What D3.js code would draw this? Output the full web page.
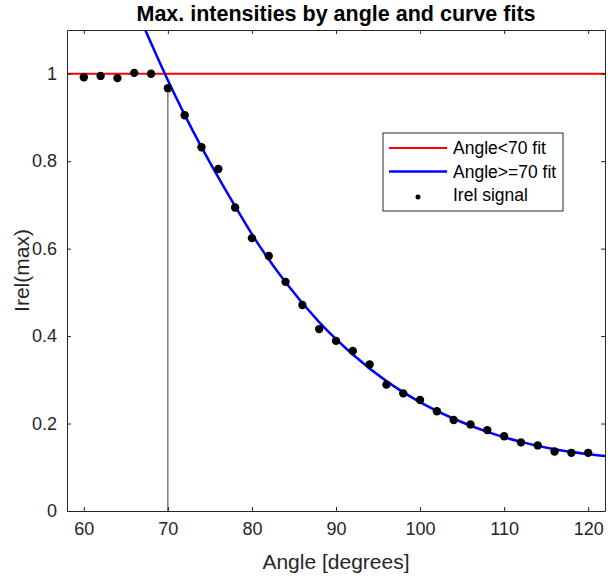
<!DOCTYPE html>
<html>
<head>
<meta charset="utf-8">
<script src="https://cdn.jsdelivr.net/npm/d3@7"></script>
<style>
  body { margin: 0; background: #fff; }
  text { font-family: "Liberation Sans", Arial, Helvetica, sans-serif; }
</style>
</head>
<body>
<svg id="chart" width="608" height="577"></svg>
<script>
// Measured peak intensity per incidence angle
const angles = [60, 62, 64, 66, 68, 70, 72, 74, 76, 78, 80, 82, 84, 86, 88, 90,
                92, 94, 96, 98, 100, 102, 104, 106, 108, 110, 112, 114, 116, 118, 120];
const irel = [0.992, 0.995, 0.990, 1.002, 1.000, 0.967, 0.905, 0.832, 0.782, 0.694, 0.624,
              0.583, 0.524, 0.471, 0.416, 0.389, 0.366, 0.335, 0.289, 0.269, 0.254,
              0.228, 0.208, 0.198, 0.185, 0.171, 0.157, 0.150, 0.136, 0.133, 0.133];

// Fitted curve for angles at or above the cutoff
const fitAngles = [67.3, 68, 69, 70, 72, 74, 76, 78, 80, 84, 88, 92, 96, 100,
                   104, 108, 112, 116, 120, 122];
const fitValues = [1.1, 1.07, 1.027, 0.985, 0.906, 0.832, 0.763, 0.697, 0.633, 0.523,
                   0.432, 0.358, 0.297, 0.249, 0.211, 0.181, 0.158, 0.141, 0.130, 0.126];

// Constant fit below the cutoff
const flatLevel = 1.0;
const cutoffAngle = 70;

const xTicks = [60, 70, 80, 90, 100, 110, 120];
const yTicks = [0, 0.2, 0.4, 0.6, 0.8, 1];
const legendLabels = ["Angle<70 fit", "Angle>=70 fit", "Irel signal"];

const W = 608, H = 577;
const m = { left: 67, right: 3, top: 30, bottom: 66 };
const x = d3.scaleLinear().domain([58, 122]).range([m.left, W - m.right]);
const y = d3.scaleLinear().domain([0, 1.1]).range([H - m.bottom, m.top]);

const svg = d3.select("#chart");
const axisColor = "#262626";
const tickLen = 4;

svg.append("defs").append("clipPath").attr("id", "plot-clip")
  .append("rect")
  .attr("x", x.range()[0]).attr("y", y.range()[1])
  .attr("width", x.range()[1] - x.range()[0])
  .attr("height", y.range()[0] - y.range()[1]);

const plot = svg.append("g").attr("clip-path", "url(#plot-clip)");

// Stem marking the cutoff angle
const cutoffIdx = angles.indexOf(cutoffAngle);
plot.append("line")
  .attr("x1", x(cutoffAngle)).attr("x2", x(cutoffAngle))
  .attr("y1", y(0)).attr("y2", y(irel[cutoffIdx]))
  .attr("stroke", "#3a3a3a").attr("stroke-width", 1);

// Flat fit
plot.append("line")
  .attr("x1", x.range()[0]).attr("x2", x.range()[1])
  .attr("y1", y(flatLevel)).attr("y2", y(flatLevel))
  .attr("stroke", "#ff0000").attr("stroke-width", 2);

// Decaying fit
plot.append("path")
  .datum(fitAngles.map((a, i) => [a, fitValues[i]]))
  .attr("fill", "none")
  .attr("stroke", "#0000ff")
  .attr("stroke-width", 2.5)
  .attr("d", d3.line().x(d => x(d[0])).y(d => y(d[1])).curve(d3.curveMonotoneX));

// Signal points
plot.selectAll("circle.pt")
  .data(angles.map((a, i) => [a, irel[i]]))
  .join("circle")
  .attr("class", "pt")
  .attr("cx", d => x(d[0])).attr("cy", d => y(d[1]))
  .attr("r", 4.2).attr("fill", "#000");

// Axes: box with inward ticks on all four sides
const xB = d3.axisBottom(x).tickValues(xTicks).tickSizeInner(-tickLen).tickSizeOuter(0).tickPadding(11);
const xT = d3.axisTop(x).tickValues(xTicks).tickSizeInner(-tickLen).tickSizeOuter(0).tickFormat("");
const yL = d3.axisLeft(y).tickValues(yTicks).tickSizeInner(-tickLen).tickSizeOuter(0).tickPadding(10)
  .tickFormat(d => String(d));
const yR = d3.axisRight(y).tickValues(yTicks).tickSizeInner(-tickLen).tickSizeOuter(0).tickFormat("");

function styleAxis(g) {
  g.select(".domain").attr("stroke", axisColor).attr("stroke-width", 1);
  g.selectAll(".tick line").attr("stroke", axisColor).attr("stroke-width", 1);
  g.selectAll(".tick text").attr("fill", axisColor)
    .style("font-family", '"Liberation Sans", Arial, sans-serif')
    .style("font-size", "18px");
}

svg.append("g").attr("transform", `translate(0,${y(0)})`).call(xB).call(styleAxis);
svg.append("g").attr("transform", `translate(0,${y(1.1)})`).call(xT).call(styleAxis);
svg.append("g").attr("transform", `translate(${x(58)},0)`).call(yL).call(styleAxis);
svg.append("g").attr("transform", `translate(${x(122)},0)`).call(yR).call(styleAxis);

// Titles
svg.append("text")
  .attr("x", (x.range()[0] + x.range()[1]) / 2).attr("y", 21)
  .attr("text-anchor", "middle")
  .attr("font-weight", "bold").attr("font-size", 21.5)
  .attr("fill", "#000")
  .text("Max. intensities by angle and curve fits");

svg.append("text")
  .attr("x", (x.range()[0] + x.range()[1]) / 2).attr("y", 569)
  .attr("text-anchor", "middle")
  .attr("font-size", 21).attr("fill", axisColor)
  .text("Angle [degrees]");

svg.append("text")
  .attr("transform", `translate(29,${(y.range()[0] + y.range()[1]) / 2}) rotate(-90)`)
  .attr("text-anchor", "middle")
  .attr("font-size", 21).attr("fill", axisColor)
  .text("Irel(max)");

// Legend
const lg = svg.append("g").attr("transform", "translate(383,133)");
lg.append("rect").attr("width", 180).attr("height", 78)
  .attr("fill", "#fff").attr("stroke", axisColor).attr("stroke-width", 1);
const rowY = [15, 38.5, 62];
lg.append("line").attr("x1", 6).attr("x2", 64).attr("y1", rowY[0]).attr("y2", rowY[0])
  .attr("stroke", "#ff0000").attr("stroke-width", 2);
lg.append("line").attr("x1", 6).attr("x2", 64).attr("y1", rowY[1]).attr("y2", rowY[1])
  .attr("stroke", "#0000ff").attr("stroke-width", 2.5);
lg.append("circle").attr("cx", 35).attr("cy", rowY[2] + 2).attr("r", 2.5).attr("fill", "#000");
lg.selectAll("text.lab").data(legendLabels).join("text")
  .attr("class", "lab")
  .attr("x", 70).attr("y", (d, i) => rowY[i])
  .attr("dy", "0.35em")
  .attr("font-size", 17.5).attr("fill", "#000")
  .text(d => d);
</script>
</body>
</html>
